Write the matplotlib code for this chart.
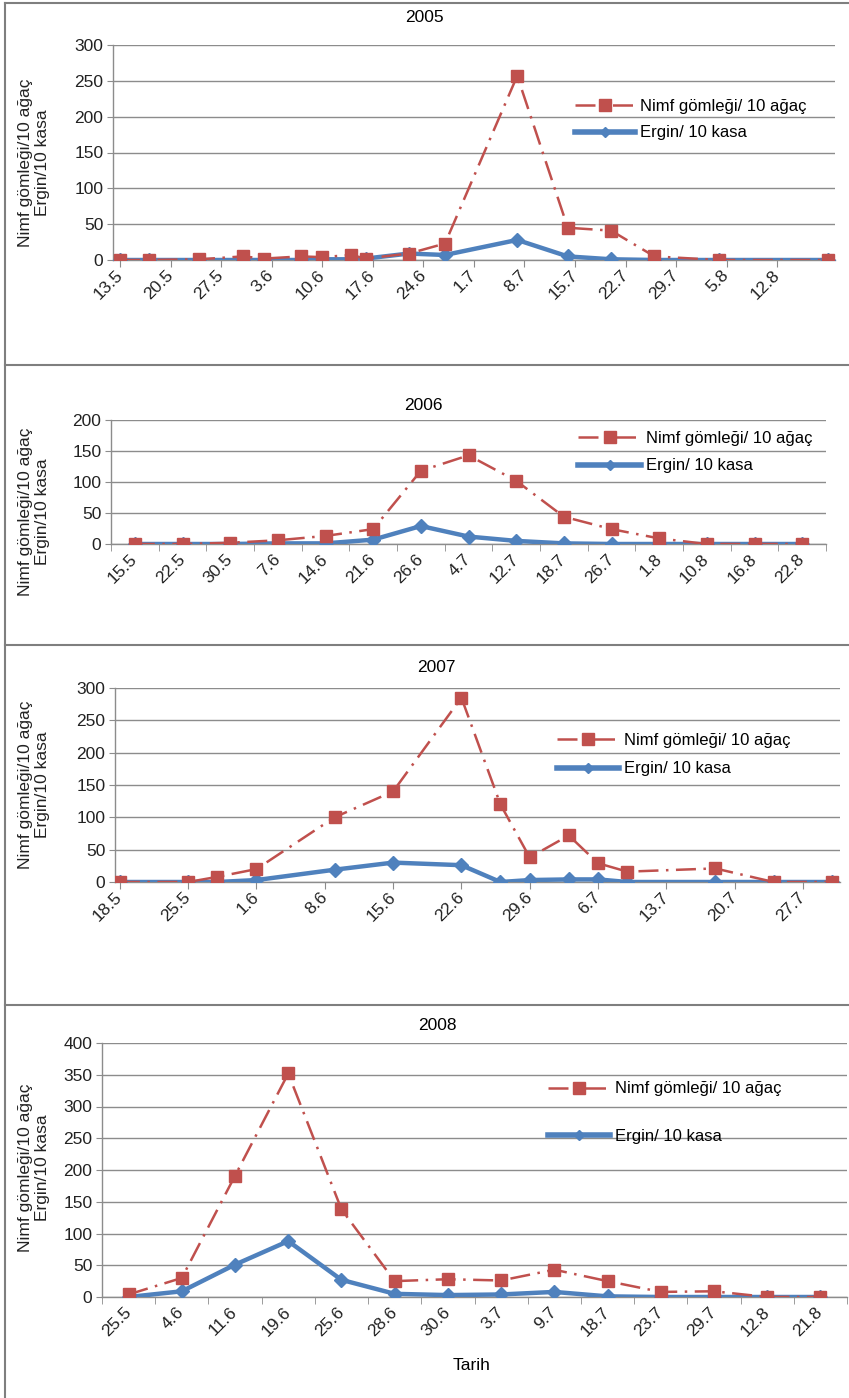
import matplotlib
matplotlib.use("Agg")
import matplotlib.pyplot as plt
from matplotlib.lines import Line2D
import numpy as np
import pandas as pd

plt.rcParams['font.family'] = ['Liberation Sans', 'DejaVu Sans']

# ---------------- data ----------------
# 2005 (date axis)
dates_2005 = ["13.5", "17.5", "24.5", "30.5", "2.6", "7.6", "10.6", "14.6", "16.6",
              "22.6", "27.6", "7.7", "14.7", "20.7", "26.7", "4.8", "19.8"]
nimf_2005 = [0, 0, 1, 5, 2, 5, 4, 7, 2, 9, 23, 257, 45, 41, 5, 0, 0]
ergin_2005 = [0, 0, 0, 0, 0, 0, 1, 1, 2, 9, 7, 28, 5, 1, 0, 0, 0]
ticks_2005 = ["13.5", "20.5", "27.5", "3.6", "10.6", "17.6", "24.6", "1.7", "8.7",
              "15.7", "22.7", "29.7", "5.8", "12.8"]

# 2006 (category axis)
cats_2006 = ["15.5", "22.5", "30.5", "7.6", "14.6", "21.6", "26.6", "4.7", "12.7",
             "18.7", "26.7", "1.8", "10.8", "16.8", "22.8"]
nimf_2006 = [0, 0, 2, 6, 13, 24, 118, 143, 102, 44, 24, 9, 0, 0, 0]
ergin_2006 = [0, 0, 0, 1, 1, 7, 29, 12, 5, 1, 0, 0, 0, 0, 0]

# 2007 (date axis)
dates_2007 = ["18.5", "25.5", "28.5", "1.6", "9.6", "15.6", "22.6", "26.6", "29.6",
              "3.7", "6.7", "9.7", "18.7", "24.7", "30.7"]
nimf_2007 = [0, 0, 8, 20, 100, 140, 285, 120, 38, 72, 29, 16, 21, 0, 0]
ergin_2007 = [0, 0, 0, 3, 19, 30, 26, 0, 3, 4, 4, 0, 0, 0, 0]
ticks_2007 = ["18.5", "25.5", "1.6", "8.6", "15.6", "22.6", "29.6", "6.7", "13.7",
              "20.7", "27.7"]

# 2008 (category axis)
cats_2008 = ["25.5", "4.6", "11.6", "19.6", "25.6", "28.6", "30.6", "3.7", "9.7",
             "18.7", "23.7", "29.7", "12.8", "21.8"]
nimf_2008 = [4, 30, 191, 352, 138, 25, 28, 26, 43, 25, 8, 9, 0, 0]
ergin_2008 = [0, 9, 51, 88, 27, 5, 3, 4, 8, 1, 0, 0, 0, 0]

label_nimf = "Nimf gömleği/ 10 ağaç"
label_ergin = "Ergin/ 10 kasa"
ylabel_text = "Nimf gömleği/10 ağaç\nErgin/10 kasa"

# ---------------- helpers ----------------
W, H = 849, 1398
fig = plt.figure(figsize=(W / 100, H / 100), dpi=100)

GRID = '#8c8c8c'
RED = '#C0504D'
BLUE = '#4F81BD'
FS = 12.5       # tick labels / titles
FS_LEG = 12
FS_Y = 12.5


def to_days(strs, year):
    return pd.to_datetime([f"{year}-{s.split('.')[1]}-{s.split('.')[0]}" for s in strs])


def rect(l, t, r, b):
    return [l / W, 1 - b / H, (r - l) / W, (b - t) / H]


def style(ax, ymax):
    ax.set_ylim(0, ymax)
    ax.set_yticks(np.arange(0, ymax + 1, 50))
    ax.grid(axis='y', color=GRID, lw=1)
    ax.set_axisbelow(True)
    for s in ('top', 'right'):
        ax.spines[s].set_visible(False)
    for s in ('left', 'bottom'):
        ax.spines[s].set_color(GRID)
        ax.spines[s].set_linewidth(1)
    ax.tick_params(axis='y', colors=GRID, labelcolor='#222222', labelsize=FS,
                   length=4, pad=3)
    ax.tick_params(axis='x', which='both', colors=GRID, labelcolor='#222222',
                   labelsize=FS)


def draw_series(ax, x, nimf, ergin):
    ax.plot(x, ergin, color=BLUE, lw=3.2, marker='D', ms=7.5, mfc=BLUE, mec=BLUE,
            zorder=3, solid_joinstyle='round')
    ax.plot(x, nimf, color=RED, lw=1.8, linestyle=(0, (8, 3, 1, 3)), marker='s',
            ms=8.5, mfc=RED, mec=RED, zorder=4)


def legends(x, y1, y2, hl):
    h1 = Line2D([], [], color=RED, lw=1.8, linestyle=(0, (8, 3, 1, 3)), marker='s',
                ms=8, mfc=RED, mec=RED)
    h2 = Line2D([], [], color=BLUE, lw=4, marker='D', ms=5, mfc=BLUE, mec=BLUE)
    for h, lab, yy in ((h1, label_nimf, y1), (h2, label_ergin, y2)):
        fig.legend([h], [lab], loc='center left', bbox_to_anchor=(x / W, 1 - yy / H),
                   frameon=False, borderpad=0, borderaxespad=0, handlelength=hl,
                   handletextpad=0.3, fontsize=FS_LEG, numpoints=1)


def ylab(yc):
    fig.text(34 / W, 1 - yc / H, ylabel_text, rotation=90, ha='center', va='center',
             fontsize=FS_Y, multialignment='center', linespacing=1.15,
             color='#222222')


def xlabels_kw():
    return dict(rotation=45, ha='right', va='center', rotation_mode='anchor')


# ---------------- panel 2005 ----------------
ax1 = fig.add_axes(rect(113, 45, 835, 260))
d05 = to_days(dates_2005, 2005)
x05 = (d05 - d05[0]).days.values
t05 = (to_days(ticks_2005, 2005) - d05[0]).days.values
draw_series(ax1, x05, nimf_2005, ergin_2005)
style(ax1, 300)
ax1.set_xlim(-0.97, 99)
ax1.set_xticks(t05, ticks_2005, **xlabels_kw())
ax1.tick_params(axis='x', length=5, pad=4)
fig.text(424 / W, 1 - 18 / H, "2005", ha='center', va='center', fontsize=FS)
ylab(163)
legends(575, 106, 133, 3.6)

# ---------------- panel 2006 ----------------
ax2 = fig.add_axes(rect(111, 420, 826, 544))
x06 = np.arange(len(cats_2006))
draw_series(ax2, x06, nimf_2006, ergin_2006)
style(ax2, 200)
ax2.set_xlim(-0.5, len(cats_2006) - 0.5)
ax2.set_xticks(x06, cats_2006, **xlabels_kw())
ax2.set_xticks(np.arange(-0.5, len(cats_2006)), minor=True)
ax2.tick_params(axis='x', which='major', length=0, pad=9)
ax2.tick_params(axis='x', which='minor', length=5)
fig.text(423 / W, 1 - 405 / H, "2006", ha='center', va='center', fontsize=FS)
ylab(512)
legends(578, 438, 466, 3.8)

# ---------------- panel 2007 ----------------
ax3 = fig.add_axes(rect(115, 688, 840, 882))
d07 = to_days(dates_2007, 2007)
x07 = (d07 - d07[0]).days.values
t07 = (to_days(ticks_2007, 2007) - d07[0]).days.values
draw_series(ax3, x07, nimf_2007, ergin_2007)
style(ax3, 300)
ax3.set_xlim(-0.5, 73.8)
ax3.set_xticks(t07, ticks_2007, **xlabels_kw())
ax3.tick_params(axis='x', length=5, pad=4)
fig.text(436 / W, 1 - 667 / H, "2007", ha='center', va='center', fontsize=FS)
ylab(785)
legends(557, 740, 769, 3.7)

# ---------------- panel 2008 ----------------
ax4 = fig.add_axes(rect(102, 1043, 847, 1297))
x08 = np.arange(len(cats_2008))
draw_series(ax4, x08, nimf_2008, ergin_2008)
style(ax4, 400)
ax4.set_xlim(-0.5, len(cats_2008) - 0.5)
ax4.set_xticks(x08, cats_2008, **xlabels_kw())
ax4.set_xticks(np.arange(-0.5, len(cats_2008)), minor=True)
ax4.tick_params(axis='x', which='major', length=0, pad=9)
ax4.tick_params(axis='x', which='minor', length=5)
fig.text(437 / W, 1 - 1025 / H, "2008", ha='center', va='center', fontsize=FS)
ylab(1168)
fig.text(472 / W, 1 - 1365 / H, "Tarih", ha='center', va='center', fontsize=FS)
legends(548, 1089, 1136, 3.7)

# ---------------- frame / separators ----------------
for yy in (3, 365, 645, 1005):
    fig.add_artist(Line2D([5 / W, 1], [1 - yy / H, 1 - yy / H], color='#7f7f7f',
                          lw=1.5, transform=fig.transFigure))
fig.add_artist(Line2D([5 / W, 5 / W], [0, 1 - 3 / H], color='#7f7f7f', lw=1.5,
                      transform=fig.transFigure))

fig.savefig("out.png", dpi=100)
